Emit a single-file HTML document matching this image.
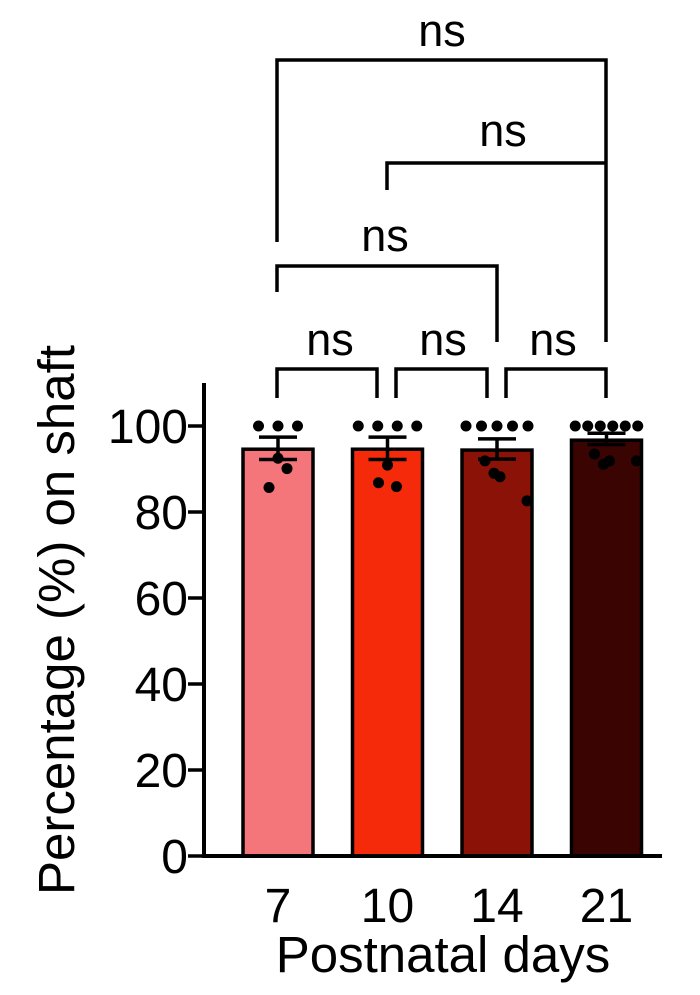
<!DOCTYPE html>
<html><head><meta charset="utf-8"><style>
body{margin:0;background:#fff}
svg{display:block;font-family:"Liberation Sans",Arial,sans-serif}
</style></head><body>
<svg id="chart" width="700" height="995" viewBox="0 0 700 995">
<g id="brackets" stroke="#000" stroke-width="3.5" fill="none">
<path d="M277 242 V60 H606 V342"/>
<path d="M387 190 V163 H606"/>
<path d="M277 292 V266 H497 V342"/>
<path d="M277 398 V369 H377 V398"/>
<path d="M396 398 V369 H487 V398"/>
<path d="M506 398 V369 H606 V398"/>
</g>
<g font-size="45" text-anchor="middle">
<text x="442" y="46">ns</text>
<text x="503" y="146">ns</text>
<text x="385" y="251">ns</text>
<text x="330" y="355">ns</text>
<text x="443" y="355">ns</text>
<text x="553" y="355">ns</text>
</g>
<g id="plot"></g>
<text x="443" y="972" font-size="51" text-anchor="middle">Postnatal days</text>
<text transform="translate(74,620) rotate(-90)" font-size="51" text-anchor="middle">Percentage (%) on shaft</text>
</svg>
<script>
const categories=["7","10","14","21"];
const means=[94.6,94.6,94.4,96.7];
const errTop=[97.4,97.4,97.0,98.3];
const errBottom=[92.2,92.2,92.3,95.7];
const points7=[100,100,100,92.5,90.1,85.7];
const points10=[100,100,100,100,90.9,85.9,86.8];
const points14=[100,100,100,100,100,91.9,89.0,88.2,82.6];
const points21=[100,100,100,100,100,100,93.5,91.1,91.9,91.9];
const yTicks=[0,20,40,60,80,100];
const colors=["#f4767a","#f42a0a","#8a1206","#3a0402"];
const points=[points7,points10,points14,points21];
const NS="http://www.w3.org/2000/svg";
const g=document.getElementById('plot');
const y=v=>856-v*4.3;
const x=i=>278+i*109.5;
function mk(t,a){const e=document.createElementNS(NS,t);for(const k in a)e.setAttribute(k,a[k]);g.appendChild(e);return e;}
categories.forEach((c,i)=>{
  const b=mk('rect',{x:x(i)-35,y:y(means[i]),width:70,height:856-y(means[i]),fill:colors[i],stroke:'#000','stroke-width':3.5});
  
  
  const e=mk('path',{d:`M${x(i)-19} ${y(errTop[i])}H${x(i)+19}M${x(i)} ${y(errTop[i])}V${y(errBottom[i])}M${x(i)-19} ${y(errBottom[i])}H${x(i)+19}`,stroke:'#000','stroke-width':3.5,fill:'none'});
  
  
  const top=points[i].filter(v=>v>=100);
  const rest=points[i].filter(v=>v<100);
  const n=top.length;const sp=n>5?12.5:(n>4?15.5:19.5);
  top.forEach((v,j)=>{
    const d=mk('circle',{cx:x(i)+(j-(n-1)/2)*sp,cy:y(v),r:5.5,fill:'#000'});
    
    
  });
  const m=rest.length;
  rest.forEach((v,j)=>{
    const off=m<2?0:((j%2===0?-1:1)*Math.ceil(j/2)*9)+(m===4?-(j<2?1:-1)*12:0);
    const d=mk('circle',{cx:x(i)+off,cy:y(v),r:5.5,fill:'#000'});
    
    
  });
  const t=mk('text',{x:x(i),y:922,'font-size':48,'text-anchor':'middle'});t.textContent=c;
  
  
});
yTicks.forEach(v=>{
  const l=mk('line',{x1:188,x2:204,y1:y(v),y2:y(v),stroke:'#000','stroke-width':3.5});
  
  
  const t=mk('text',{x:188,y:y(v)+17,'font-size':48,'text-anchor':'end'});t.textContent=v;
  
  
});
const ya=mk('line',{x1:204,x2:204,y1:383,y2:858,stroke:'#000','stroke-width':4});


const xa=mk('line',{x1:202,x2:662,y1:856,y2:856,stroke:'#000','stroke-width':4});


</script>
</body></html>
